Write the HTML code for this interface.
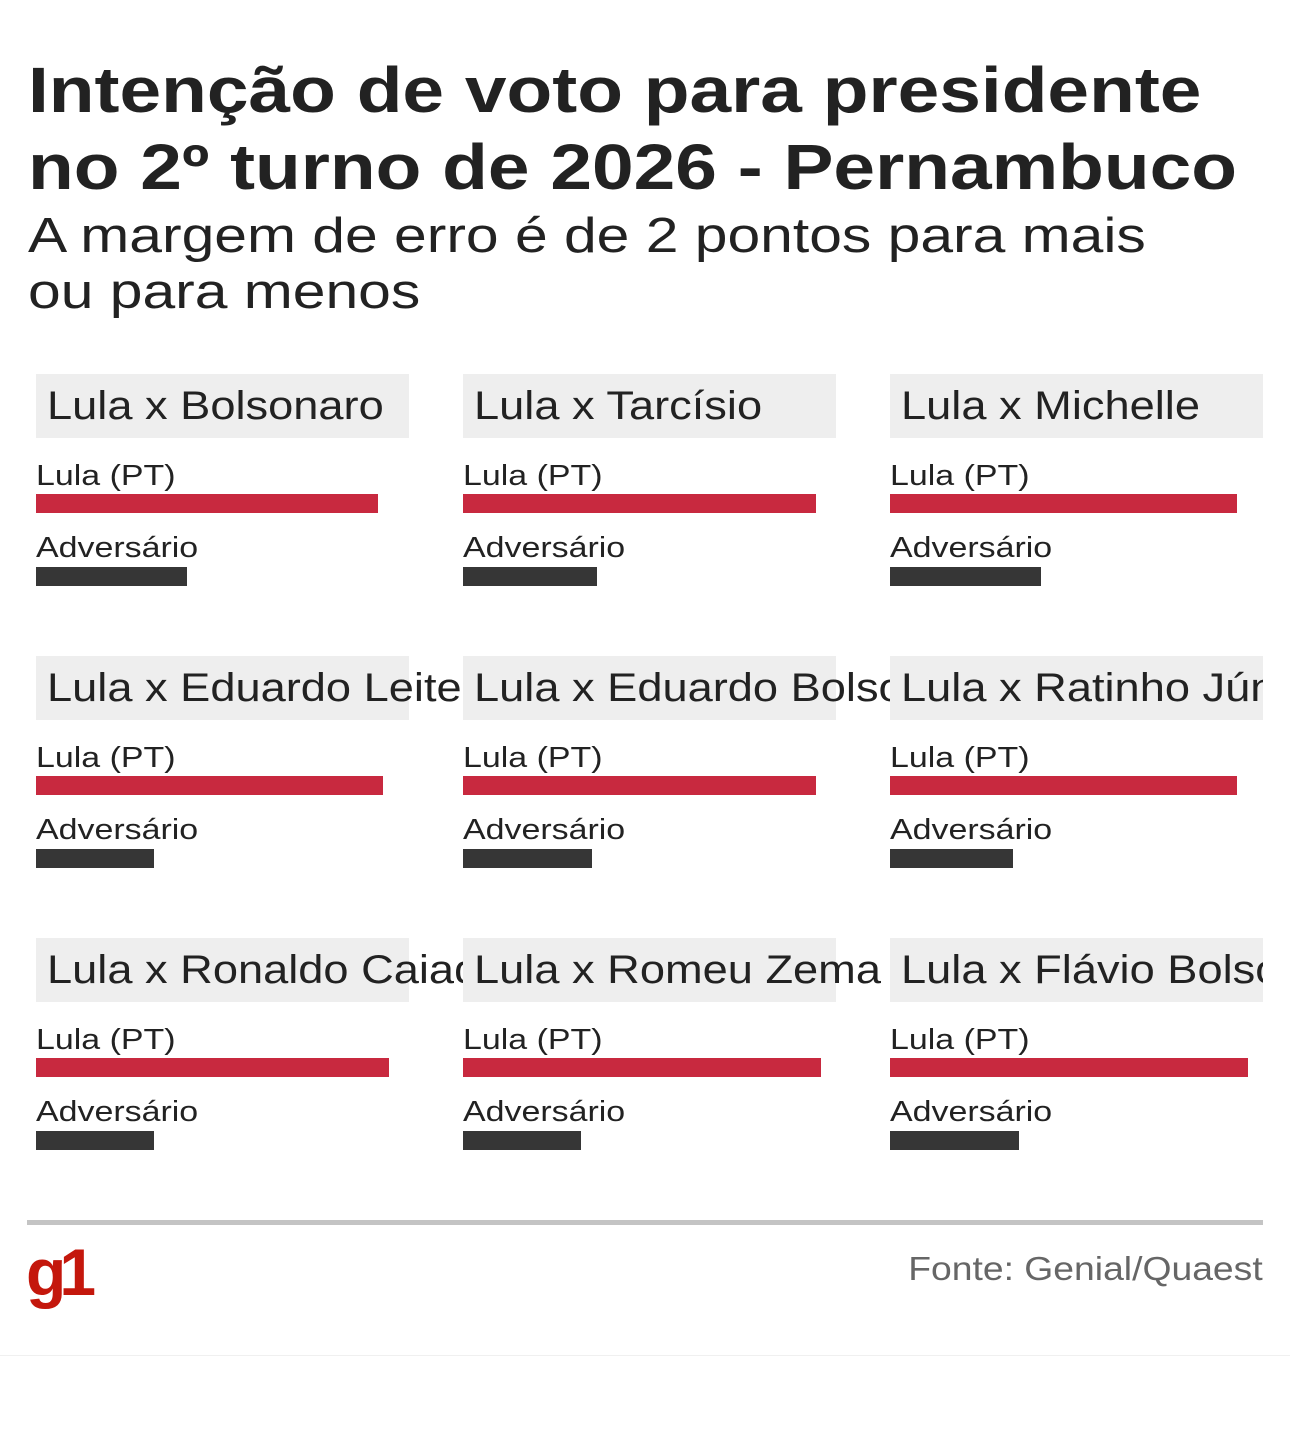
<!DOCTYPE html>
<html><head><meta charset="utf-8">
<style>
body{margin:0;width:1290px;height:1429px;background:#fff;font-family:"Liberation Sans",sans-serif;color:#222;position:relative;overflow:hidden}
.t{position:absolute;left:28px;font-weight:bold;font-size:64px;line-height:77px;top:52px;white-space:nowrap;transform:scaleX(1.17);transform-origin:0 0}
.s{position:absolute;left:28px;top:208px;font-size:49px;line-height:56px;white-space:nowrap;color:#222;transform:scaleX(1.2);transform-origin:0 0}
.panel{position:absolute;width:427px;height:230px;overflow:hidden}
.panel.last{width:373px}
.hd{position:absolute;left:0;top:0;width:373px;height:64px;background:#eeeeee}
.hdt{position:absolute;left:11px;top:6px;font-size:40px;line-height:52px;white-space:nowrap;color:#222;transform:scaleX(1.13);transform-origin:0 0}
.lbl{position:absolute;left:0;font-size:29px;line-height:34px;color:#222;white-space:nowrap;transform:scaleX(1.17);transform-origin:0 0}
.bar{position:absolute;left:0;height:19px}
.foot{position:absolute;left:27px;top:1220px;width:1236px;height:5px;background:#c4c4c4}
.src{position:absolute;right:27px;top:1250px;font-size:33px;color:#666;transform:scaleX(1.13);transform-origin:100% 0}
.g1{position:absolute;left:26px;top:1234px;font-size:66px;font-weight:bold;color:#c4170c;letter-spacing:-7px}
.bl{position:absolute;left:0;top:1355px;width:1290px;height:1px;background:#f0f0f0}
</style></head><body>
<div class="t">Intenção de voto para presidente<br>no 2º turno de 2026 - Pernambuco</div>
<div class="s">A margem de erro é de 2 pontos para mais<br>ou para menos</div>
<div id="grid"></div>
<div class="foot"></div>
<div class="g1">g1</div>
<div class="src">Fonte: Genial/Quaest</div>
<div class="bl"></div>
<script>
const matchups=["Lula x Bolsonaro","Lula x Tarcísio","Lula x Michelle","Lula x Eduardo Leite","Lula x Eduardo Bolsonaro","Lula x Ratinho Júnior","Lula x Ronaldo Caiado","Lula x Romeu Zema","Lula x Flávio Bolsonaro"];
const lulaValues=[61,63,62,62,63,62,63,64,64];
const rivalValues=[27,24,27,21,23,22,21,21,23];
const pxPerPoint=5.6;
function xScale(v){return v*pxPerPoint;}
const grid=document.getElementById('grid');
matchups.forEach((m,i)=>{
  const col=i%3,row=Math.floor(i/3);
  const p=document.createElement('div');
  p.className='panel'+(col===2?' last':'');
  p.style.left=(36+col*427)+'px';
  p.style.top=(374+row*282)+'px';
  
  
  const hd=document.createElement('div');hd.className='hd';
  
  
  p.appendChild(hd);
  const ht=document.createElement('div');ht.className='hdt';ht.textContent=m;
  
  
  p.appendChild(ht);
  const l1=document.createElement('div');l1.className='lbl';l1.style.top='85px';l1.textContent='Lula (PT)';
  
  
  p.appendChild(l1);
  const b1=document.createElement('div');b1.className='bar';b1.style.top='120px';b1.style.background='#c8293f';b1.style.width=xScale(lulaValues[i])+'px';
  
  
  p.appendChild(b1);
  const l2=document.createElement('div');l2.className='lbl';l2.style.top='157px';l2.textContent='Adversário';
  
  
  p.appendChild(l2);
  const b2=document.createElement('div');b2.className='bar';b2.style.top='193px';b2.style.background='#363636';b2.style.width=xScale(rivalValues[i])+'px';
  
  
  p.appendChild(b2);
  grid.appendChild(p);
});
</script>
</body></html>
